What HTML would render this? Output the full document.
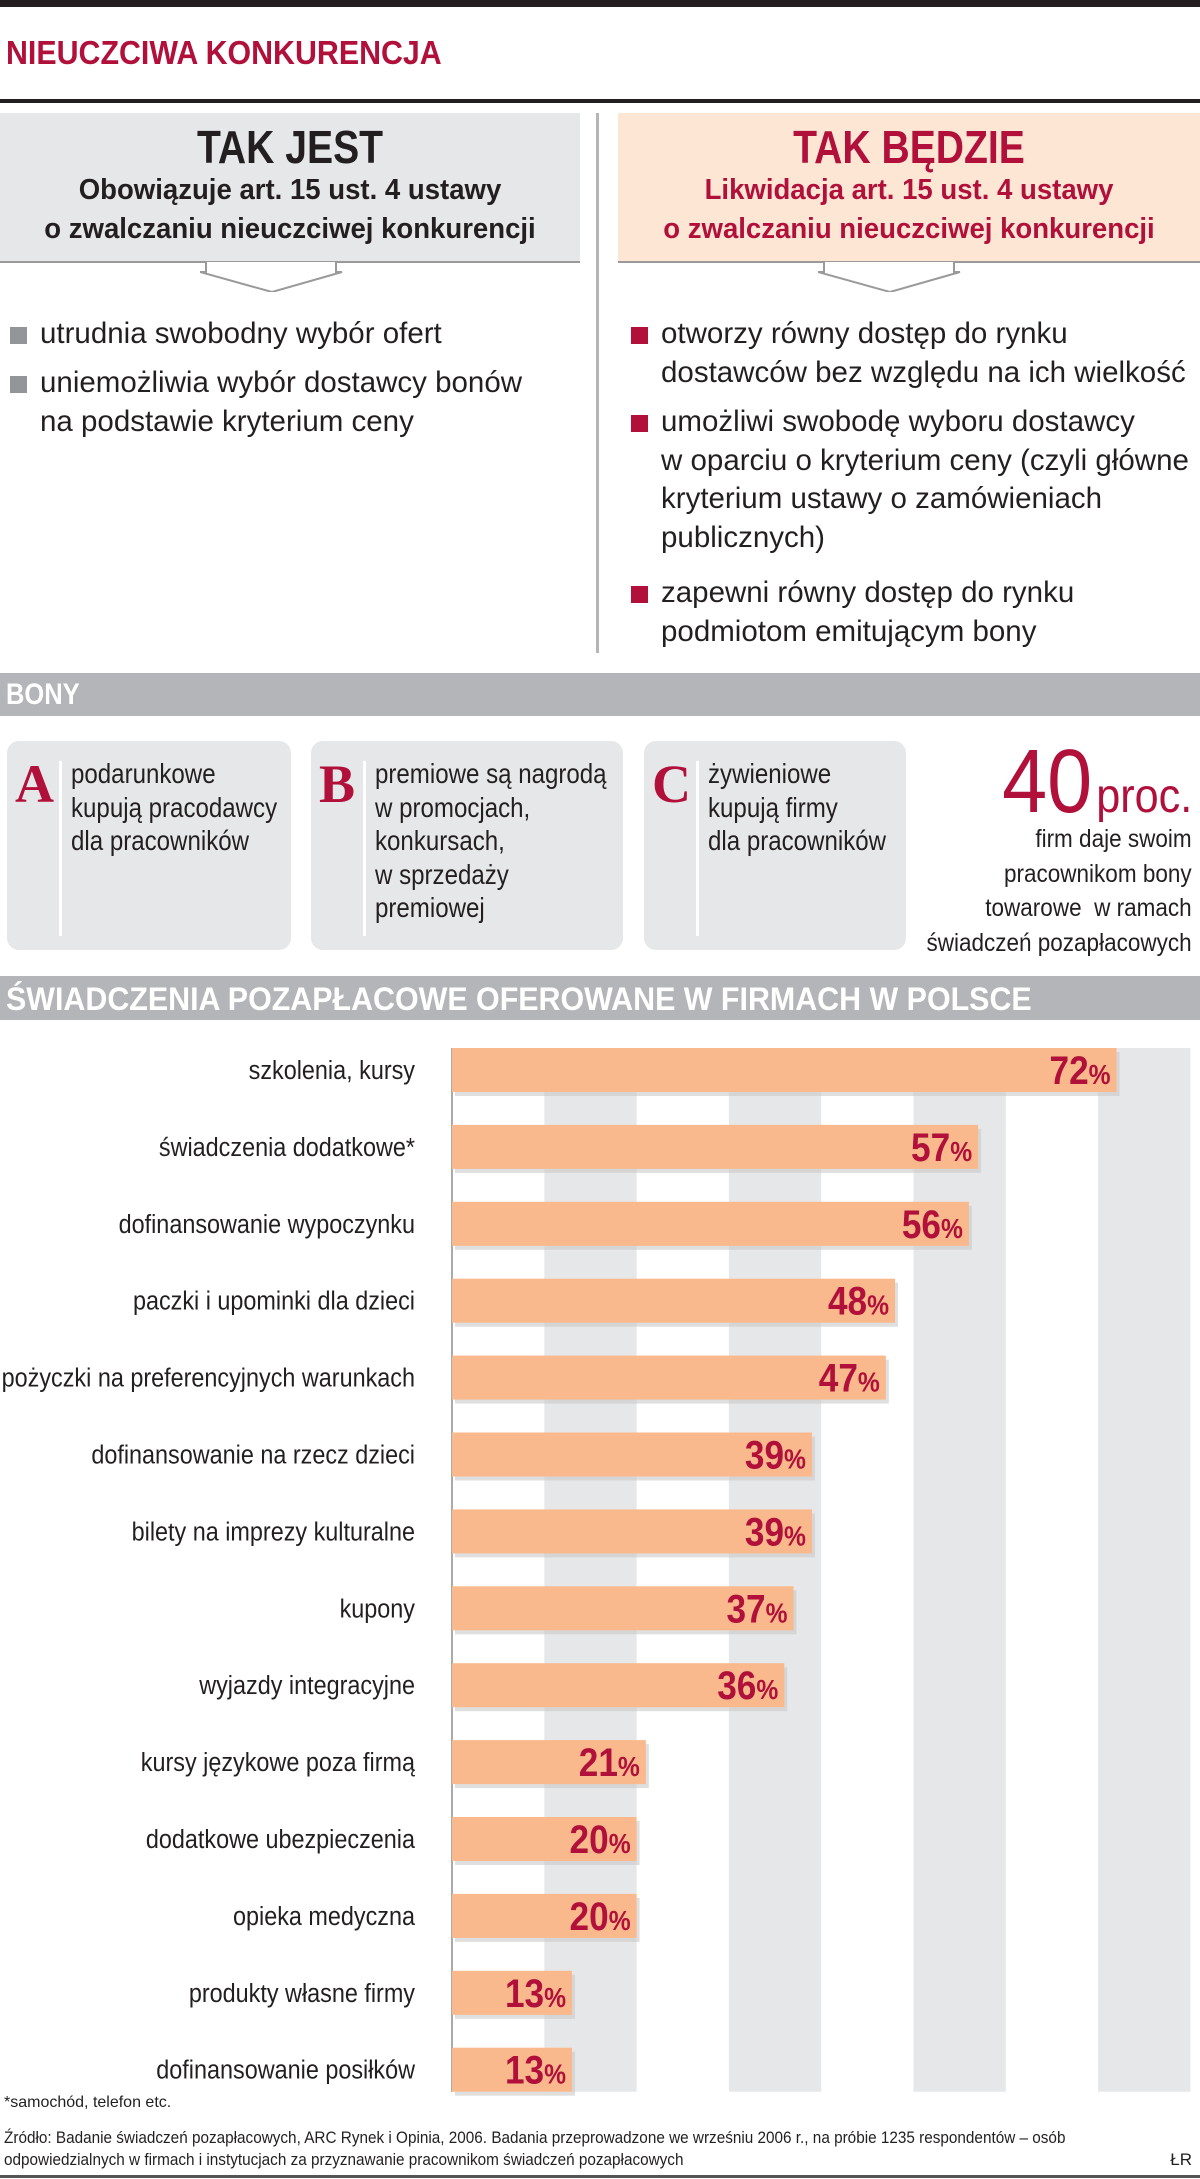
<!DOCTYPE html>
<html><head><meta charset="utf-8">
<style>
*{margin:0;padding:0;box-sizing:border-box}
body{width:1200px;height:2179px;background:#fff;position:relative;overflow:hidden;font-family:"Liberation Sans Narrow","Liberation Sans",sans-serif;color:#231f20}
.abs{position:absolute}
.red{color:#b0103a}
.hd{font-weight:bold;text-align:center;width:100%;transform-origin:center}
.bul{position:absolute;font-size:29.5px;line-height:38.7px;white-space:nowrap}
.bul .sq{position:absolute;left:-30px;top:12px;width:17px;height:17px}
.card{position:absolute;top:741px;height:209px;background:#e6e7e8;border-radius:12px}
.card .let{position:absolute;left:8px;top:12px;font-family:"Liberation Serif",serif;font-weight:bold;font-size:54px;color:#b0103a}
.card .vl{position:absolute;left:52px;top:20px;width:3px;height:175px;background:#fff}
.card .tx{position:absolute;left:64px;top:16px;font-size:28px;line-height:33.5px;white-space:nowrap;transform:scaleX(.86);transform-origin:left top}
.band{position:absolute;left:0;width:1200px;background:#b4b5b8;color:#fff;font-weight:bold;white-space:nowrap}
</style></head><body>
<div class="abs" style="left:0;top:0;width:1200px;height:7px;background:#231f20"></div>
<div class="abs red" style="left:6px;top:36px;font-size:33px;font-weight:bold;line-height:34px;white-space:nowrap;transform:scaleX(.92);transform-origin:left">NIEUCZCIWA KONKURENCJA</div>
<div class="abs" style="left:0;top:99px;width:1200px;height:4px;background:#231f20"></div>

<div class="abs" style="left:0;top:113px;width:580px;height:150px;background:#e6e7e8;border-bottom:2px solid #9a9a9a">
 <div class="hd" style="font-size:46px;margin-top:10px;line-height:48px;transform:scaleX(.85)">TAK JEST</div>
 <div class="hd" style="font-size:29px;line-height:39px;transform:scaleX(.95)">Obowiązuje art. 15 ust. 4 ustawy<br>o zwalczaniu nieuczciwej konkurencji</div>
</div>
<svg class="abs" style="left:200px;top:262px" width="150" height="30"><polyline points="6,0 6,10 0,10 72,30 142,10 136,10 136,0" fill="#fff" stroke="#9a9a9a" stroke-width="2"/></svg>
<div class="abs" style="left:618px;top:113px;width:582px;height:150px;background:#fde6d4;border-bottom:2px solid #9a9a9a">
 <div class="hd red" style="font-size:46px;margin-top:10px;line-height:48px;transform:scaleX(.85)">TAK BĘDZIE</div>
 <div class="hd red" style="font-size:29px;line-height:39px;transform:scaleX(.95)">Likwidacja art. 15 ust. 4 ustawy<br>o zwalczaniu nieuczciwej konkurencji</div>
</div>
<svg class="abs" style="left:818px;top:262px" width="150" height="30"><polyline points="6,0 6,10 0,10 72,30 142,10 136,10 136,0" fill="#fff" stroke="#9a9a9a" stroke-width="2"/></svg>
<div class="abs" style="left:596px;top:113px;width:3px;height:540px;background:#b4b5b8"></div>

<div class="bul" style="left:40px;top:315px"><span class="sq" style="background:#939598"></span>utrudnia swobodny wybór ofert</div>
<div class="bul" style="left:40px;top:364px"><span class="sq" style="background:#939598"></span>uniemożliwia wybór dostawcy bonów<br>na podstawie kryterium ceny</div>
<div class="bul" style="left:661px;top:315px"><span class="sq" style="background:#b0103a"></span>otworzy równy dostęp do rynku<br>dostawców bez względu na ich wielkość</div>
<div class="bul" style="left:661px;top:403px"><span class="sq" style="background:#b0103a"></span>umożliwi swobodę wyboru dostawcy<br>w oparciu o kryterium ceny (czyli główne<br>kryterium ustawy o zamówieniach<br>publicznych)</div>
<div class="bul" style="left:661px;top:574px"><span class="sq" style="background:#b0103a"></span>zapewni równy dostęp do rynku<br>podmiotom emitującym bony</div>

<div class="band" style="top:673px;height:43px;font-size:30px;line-height:43px;padding-left:6px"><span style="display:inline-block;transform:scaleX(.85);transform-origin:left">BONY</span></div>

<div class="card" style="left:7px;width:284px"><div class="let">A</div><div class="vl"></div><div class="tx">podarunkowe<br>kupują pracodawcy<br>dla pracowników</div></div>
<div class="card" style="left:311px;width:312px"><div class="let">B</div><div class="vl"></div><div class="tx">premiowe są nagrodą<br>w promocjach,<br>konkursach,<br>w sprzedaży<br>premiowej</div></div>
<div class="card" style="left:644px;width:262px"><div class="let">C</div><div class="vl"></div><div class="tx">żywieniowe<br>kupują firmy<br>dla pracowników</div></div>
<div class="abs red" style="right:8px;top:738px;text-align:right;white-space:nowrap;transform:scaleX(.9);transform-origin:right"><span style="font-size:90px;line-height:88px">40</span> <span style="font-size:48px">proc.</span></div>
<div class="abs" style="right:8px;top:822px;text-align:right;font-size:25px;line-height:34.5px;white-space:nowrap;transform:scaleX(.9);transform-origin:right">firm daje swoim<br>pracownikom bony<br>towarowe&nbsp; w ramach<br>świadczeń pozapłacowych</div>

<div class="band" style="top:976px;height:44px;font-size:32px;line-height:46px;padding-left:6px"><span style="display:inline-block;transform:scaleX(.95);transform-origin:left">ŚWIADCZENIA POZAPŁACOWE OFEROWANE W FIRMACH W POLSCE</span></div>

<svg class="abs" id="chart" style="left:0;top:1030px" width="1200" height="1080"></svg>

<div class="abs" style="left:4px;top:2094px;font-size:16px">*samochód, telefon etc.</div>
<div class="abs" style="left:4px;top:2127px;font-size:17px;line-height:22px;width:1250px;transform:scaleX(.9);transform-origin:left">Źródło: Badanie świadczeń pozapłacowych, ARC Rynek i Opinia, 2006. Badania przeprowadzone we wrześniu 2006 r., na próbie 1235 respondentów – osób<br>odpowiedzialnych w firmach i instytucjach za przyznawanie pracownikom świadczeń pozapłacowych</div>
<div class="abs" style="right:8px;top:2150px;font-size:17px">ŁR</div>
<div class="abs" style="left:0;top:2175px;width:1200px;height:3px;background:#555"></div>

<script>
const categories=["szkolenia, kursy","świadczenia dodatkowe*","dofinansowanie wypoczynku","paczki i upominki dla dzieci","pożyczki na preferencyjnych warunkach","dofinansowanie na rzecz dzieci","bilety na imprezy kulturalne","kupony","wyjazdy integracyjne","kursy językowe poza firmą","dodatkowe ubezpieczenia","opieka medyczna","produkty własne firmy","dofinansowanie posiłków"];
const values=[72,57,56,48,47,39,39,37,36,21,20,20,13,13];
const gridTicks=[10,30,50,70];
const NS="http://www.w3.org/2000/svg";
const svg=document.getElementById('chart');
const x0=452, pxPer=9.23, top0=40, step=76.9, barH=44;
const xs=v=>x0+v*pxPer;
const yc=i=>top0+i*step;
function mk(t,a){const e=document.createElementNS(NS,t);for(const k in a)e.setAttribute(k,a[k]);svg.appendChild(e);return e;}
const gTop=yc(0)-barH/2, gBot=yc(categories.length-1)+barH/2;
gridTicks.forEach(t=>{
 const r=mk('rect',{x:xs(t),y:gTop,width:xs(t+10)-xs(t),height:gBot-gTop,fill:'#e6e7e8'});
 
 
});
const ax=mk('line',{x1:x0,y1:gTop,x2:x0,y2:gBot,stroke:'#555','stroke-width':1});


categories.forEach((c,i)=>{
 const y=yc(i), v=values[i];
 const sh=mk('rect',{x:xs(0)+3,y:y-barH/2+4,width:xs(v)-xs(0),height:barH,fill:'#c9c9c9',opacity:0.6});
 
 
 const b=mk('rect',{x:xs(0),y:y-barH/2,width:xs(v)-xs(0),height:barH,fill:'#f9b98c'});
 
 
 const l=mk('text',{x:0,y:0,transform:'translate(415,'+(y+9)+') scale(0.9,1)','text-anchor':'end','font-size':26,fill:'#231f20','font-family':'"Liberation Sans Narrow","Liberation Sans",sans-serif'});
 l.textContent=c;
 
 
 const t=mk('text',{x:0,y:0,transform:'translate('+(xs(v)-6)+','+(y+14)+') scale(0.88,1)','text-anchor':'end','font-size':40,'font-weight':'bold',fill:'#b0103a','font-family':'"Liberation Sans Narrow","Liberation Sans",sans-serif'});
 t.textContent=v;
 const ts=document.createElementNS(NS,'tspan');ts.setAttribute('font-size','28');ts.textContent='%';t.appendChild(ts);
 
 
});
</script>
</body></html>
